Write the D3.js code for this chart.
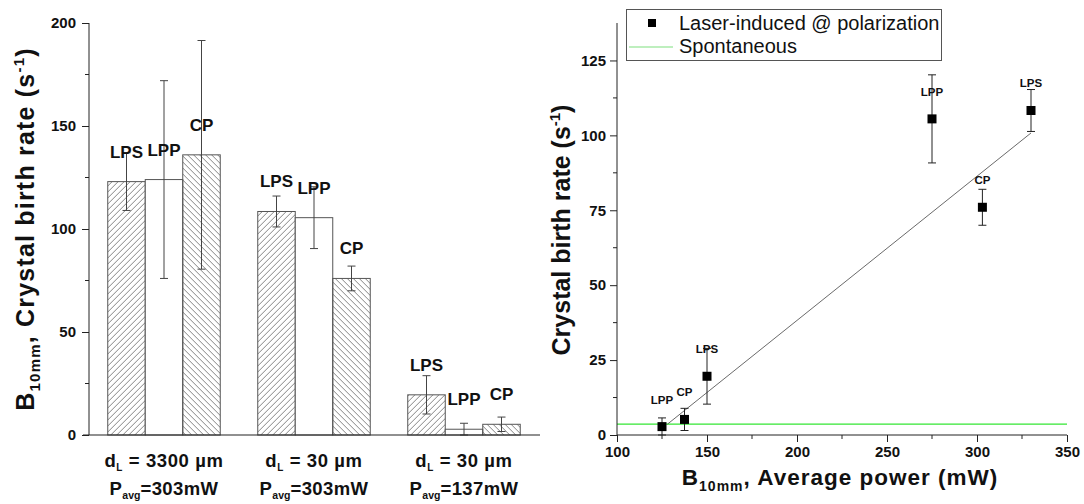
<!DOCTYPE html>
<html>
<head>
<meta charset="utf-8">
<script src="https://cdn.jsdelivr.net/npm/d3@7/dist/d3.min.js"></script>
<style>
  html, body { margin: 0; padding: 0; background: #fff; }
  svg { display: block; font-family: "Liberation Sans", Arial, sans-serif; }
</style>
</head>
<body>
<svg id="chart" width="1084" height="504"></svg>
<script>
// ---- Bar chart data: birth rate per focusing condition and polarization ----
const groups = ["3300um_303mW", "30um_303mW", "30um_137mW"];
const groupSpot = ["3300", "30", "30"];       // d_L in µm
const groupPower = ["303", "303", "137"];     // P_avg in mW
const polarizations = ["LPS", "LPP", "CP"];
const barRates = [
  [123, 124, 136],
  [108.5, 105.5, 76],
  [19.5, 2.8, 5.2]
];
const barErrors = [
  [14, 48, 55.5],
  [7.5, 15, 6],
  [9.3, 2.9, 3.5]
];
const leftTicks = [0, 50, 100, 150, 200];

// ---- Scatter data: birth rate versus average power ----
const powers = [125, 137.5, 150, 275, 303, 330];
const rates = [2.8, 5.2, 19.6, 105.5, 76, 108.3];
const rateErrors = [2.9, 3.7, 9.3, 14.7, 6, 7];
const pointLabels = ["LPP", "CP", "LPS", "LPP", "CP", "LPS"];
const fitPower = [128, 330];
const fitRate = [3.6, 100.8];
const spontaneousRate = 3.6;
const rightXTicks = [100, 150, 200, 250, 300, 350];
const rightYTicks = [0, 25, 50, 75, 100, 125];

const svg = d3.select("#chart");
const FONT = "'Liberation Sans', Arial, sans-serif";

// hatch fills
const defs = svg.append("defs");
function hatch(id, d) {
  defs.append("pattern")
    .attr("id", id).attr("patternUnits", "userSpaceOnUse")
    .attr("width", 6).attr("height", 6)
    .append("path").attr("d", d)
    .attr("stroke", "#666").attr("stroke-width", 0.8).attr("fill", "none");
}
hatch("hatchUp", "M-1,1 l2,-2 M0,6 l6,-6 M5,7 l2,-2");
hatch("hatchDown", "M-1,5 l2,2 M0,0 l6,6 M5,-1 l2,2");
const barFill = { LPS: "url(#hatchUp)", LPP: "#fff", CP: "url(#hatchDown)" };

// ================= Left panel: grouped bars =================
const L = { left: 89, right: 539, top: 23, bottom: 435 };
const xGroup = d3.scaleBand().domain(groups).range([L.left, L.right]);
const xPol = d3.scaleBand().domain(polarizations)
  .range([0, xGroup.bandwidth()]).paddingOuter(0.5).paddingInner(0);
const yLeft = d3.scaleLinear().domain([0, 200]).range([L.bottom, L.top]);

const left = svg.append("g");

const barData = [];
groups.forEach((g, gi) => polarizations.forEach((p, pi) => {
  barData.push({ g, p, v: barRates[gi][pi], e: barErrors[gi][pi] });
}));

const barG = left.selectAll("g.bar").data(barData).join("g")
  .attr("transform", d => `translate(${xGroup(d.g) + xPol(d.p)},0)`);

barG.append("rect")
  .attr("x", 0).attr("width", xPol.bandwidth())
  .attr("y", d => yLeft(d.v)).attr("height", d => yLeft(0) - yLeft(d.v))
  .attr("fill", d => barFill[d.p])
  .attr("stroke", "#555").attr("stroke-width", 1);

// error bars
const bw = xPol.bandwidth();
barG.append("line")
  .attr("x1", bw / 2).attr("x2", bw / 2)
  .attr("y1", d => yLeft(d.v + d.e)).attr("y2", d => yLeft(Math.max(0, d.v - d.e)))
  .attr("stroke", "#444").attr("stroke-width", 1);
barG.selectAll("line.cap")
  .data(d => [d.v + d.e, Math.max(0, d.v - d.e)]).join("line")
  .attr("x1", bw / 2 - 4).attr("x2", bw / 2 + 4)
  .attr("y1", v => yLeft(v)).attr("y2", v => yLeft(v))
  .attr("stroke", "#444").attr("stroke-width", 1);

// polarization labels above each bar
barG.append("text")
  .attr("x", bw / 2).attr("y", d => yLeft(d.v) - 24)
  .attr("text-anchor", "middle")
  .attr("font-size", 17).attr("font-weight", "bold").attr("fill", "#111")
  .text(d => d.p);

// y axis
const yAxisL = d3.axisLeft(yLeft).tickValues(leftTicks).tickSize(7).tickPadding(6);
const yAxisLg = left.append("g").attr("transform", `translate(${L.left},0)`).call(yAxisL);
yAxisLg.select(".domain").attr("d", `M0,${L.top}V${L.bottom}`).attr("stroke", "#222");
yAxisLg.selectAll(".tick line").attr("stroke", "#222");
yAxisLg.selectAll(".tick text").attr("font-size", 15).attr("font-weight", "bold")
  .attr("font-family", FONT).attr("fill", "#111");
const minorL = d3.range(25, 200, 50);
yAxisLg.selectAll("line.minor").data(minorL).join("line")
  .attr("x1", -4).attr("x2", 0)
  .attr("y1", d => yLeft(d)).attr("y2", d => yLeft(d)).attr("stroke", "#222");

// x baseline
left.append("line")
  .attr("x1", L.left - 6).attr("x2", L.right + 1)
  .attr("y1", yLeft(0)).attr("y2", yLeft(0))
  .attr("stroke", "#222").attr("stroke-width", 1.2);

// group labels
groups.forEach((g, gi) => {
  const cx = xGroup(g) + xGroup.bandwidth() / 2;
  const t1 = left.append("text").attr("x", cx).attr("y", 467)
    .attr("text-anchor", "middle").attr("font-size", 18.5).attr("font-weight", "bold")
    .attr("letter-spacing", 0.6).attr("fill", "#111");
  t1.append("tspan").text("d");
  t1.append("tspan").attr("font-size", 10).attr("dy", 4).text("L");
  t1.append("tspan").attr("dy", -4).text(` = ${groupSpot[gi]} µm`);
  const t2 = left.append("text").attr("x", cx).attr("y", 495)
    .attr("text-anchor", "middle").attr("font-size", 18.5).attr("font-weight", "bold")
    .attr("letter-spacing", 0.4).attr("fill", "#111");
  t2.append("tspan").text("P");
  t2.append("tspan").attr("font-size", 10.5).attr("dy", 4).attr("letter-spacing", 0).text("avg");
  t2.append("tspan").attr("dy", -4).text(`=${groupPower[gi]}mW`);
});

// y title
const ytL = left.append("text")
  .attr("transform", "translate(34,229) rotate(-90)")
  .attr("text-anchor", "middle").attr("font-size", 25).attr("font-weight", "bold")
  .attr("letter-spacing", 1.2).attr("fill", "#111");
ytL.append("tspan").text("B");
ytL.append("tspan").attr("font-size", 15).attr("dy", 6).text("10mm");
ytL.append("tspan").attr("dy", -6).text(", Crystal birth rate (s");
ytL.append("tspan").attr("font-size", 15).attr("dy", -10).text("-1");
ytL.append("tspan").attr("dy", 10).text(")");

// ================= Right panel: rate vs power =================
const R = { left: 617, right: 1067, top: 23, bottom: 435 };
const xR = d3.scaleLinear().domain([100, 350]).range([R.left, R.right]);
const yR = d3.scaleLinear().domain([0, 137.5]).range([R.bottom, R.top]);
const right = svg.append("g");

// spontaneous level
right.append("line")
  .attr("x1", xR(100)).attr("x2", xR(350))
  .attr("y1", yR(spontaneousRate)).attr("y2", yR(spontaneousRate))
  .attr("stroke", "#33e633").attr("stroke-width", 1.2);

// linear fit
right.append("path")
  .datum(fitPower.map((p, i) => [p, fitRate[i]]))
  .attr("d", d3.line().x(d => xR(d[0])).y(d => yR(d[1])))
  .attr("stroke", "#444").attr("stroke-width", 0.8).attr("fill", "none");

const pts = powers.map((p, i) => ({ p, r: rates[i], e: rateErrors[i], lab: pointLabels[i] }));
const ptG = right.selectAll("g.pt").data(pts).join("g")
  .attr("transform", d => `translate(${xR(d.p)},0)`);
ptG.append("line")
  .attr("y1", d => yR(d.r + d.e)).attr("y2", d => yR(Math.max(0, d.r - d.e)))
  .attr("stroke", "#222").attr("stroke-width", 1);
ptG.selectAll("line.cap").data(d => [d.r + d.e, Math.max(0, d.r - d.e)]).join("line")
  .attr("x1", -4).attr("x2", 4)
  .attr("y1", v => yR(v)).attr("y2", v => yR(v))
  .attr("stroke", "#222").attr("stroke-width", 1);
ptG.append("rect")
  .attr("x", -4.5).attr("width", 9).attr("height", 9)
  .attr("y", d => yR(d.r) - 4.5).attr("fill", "#000");
ptG.append("text")
  .attr("y", d => yR(d.r) - 23).attr("text-anchor", "middle")
  .attr("font-size", 11.5).attr("font-weight", "bold").attr("fill", "#111")
  .text(d => d.lab);

// axes
const xAxisR = right.append("g").attr("transform", `translate(0,${R.bottom})`)
  .call(d3.axisBottom(xR).tickValues(rightXTicks).tickSize(7).tickPadding(4));
const yAxisR = right.append("g").attr("transform", `translate(${R.left},0)`)
  .call(d3.axisLeft(yR).tickValues(rightYTicks).tickSize(7).tickPadding(4));
yAxisR.select(".domain").attr("d", `M0,${R.top}V${R.bottom}`);
xAxisR.select(".domain").attr("d", `M${R.left},0H${R.right}`);
[xAxisR, yAxisR].forEach(a => {
  a.select(".domain").attr("stroke", "#222");
  a.selectAll(".tick line").attr("stroke", "#222");
  a.selectAll(".tick text").attr("font-size", 15).attr("font-weight", "bold")
    .attr("font-family", FONT).attr("fill", "#111");
});
xAxisR.selectAll("line.minor").data(d3.range(125, 350, 50)).join("line")
  .attr("x1", d => xR(d)).attr("x2", d => xR(d)).attr("y1", 0).attr("y2", 4).attr("stroke", "#222");
yAxisR.selectAll("line.minor").data(d3.range(12.5, 137.5, 25)).join("line")
  .attr("x1", -4).attr("x2", 0).attr("y1", d => yR(d)).attr("y2", d => yR(d)).attr("stroke", "#222");

// axis titles
const xtR = right.append("text").attr("x", 840).attr("y", 485)
  .attr("text-anchor", "middle").attr("font-size", 22.5).attr("font-weight", "bold")
  .attr("letter-spacing", 1).attr("fill", "#111");
xtR.append("tspan").text("B");
xtR.append("tspan").attr("font-size", 14).attr("dy", 6).text("10mm");
xtR.append("tspan").attr("dy", -6).text(", Average power (mW)");

const ytR = right.append("text")
  .attr("transform", "translate(570,230) rotate(-90)")
  .attr("text-anchor", "middle").attr("font-size", 25).attr("font-weight", "bold").attr("fill", "#111");
ytR.append("tspan").text("Crystal birth rate (s");
ytR.append("tspan").attr("font-size", 15).attr("dy", -10).text("-1");
ytR.append("tspan").attr("dy", 10).text(")");

// legend
const lg = right.append("g");
lg.append("rect").attr("x", 626.5).attr("y", 9.5).attr("width", 315).attr("height", 51)
  .attr("fill", "#fff").attr("stroke", "#555").attr("stroke-width", 1);
lg.append("rect").attr("x", 648).attr("y", 19).attr("width", 8).attr("height", 8).attr("fill", "#000");
lg.append("text").attr("x", 679).attr("y", 30).attr("font-size", 20).attr("fill", "#111")
  .text("Laser-induced @ polarization");
lg.append("line").attr("x1", 629).attr("x2", 673).attr("y1", 47).attr("y2", 47)
  .attr("stroke", "#7fe07f").attr("stroke-width", 1.2);
lg.append("text").attr("x", 679).attr("y", 53).attr("font-size", 20).attr("fill", "#111")
  .text("Spontaneous");
</script>
</body>
</html>
